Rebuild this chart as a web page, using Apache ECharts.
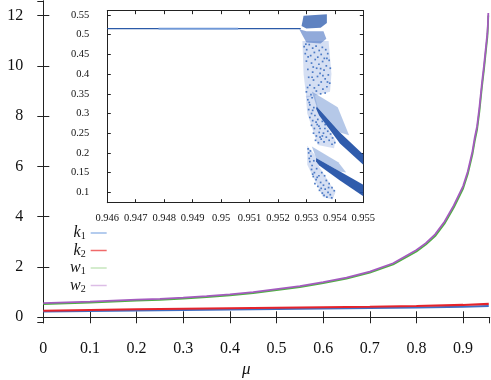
<!DOCTYPE html>
<html><head><meta charset="utf-8">
<script src="https://cdn.jsdelivr.net/npm/echarts@6/dist/echarts.min.js"></script>
<style>html,body{margin:0;padding:0;background:#fff}#c{width:491px;height:380px}</style>
</head><body><div id="c"></div>
<script>
// ---- main plot data ----
const wMu = [0,0.05,0.1,0.15,0.2,0.25,0.3,0.35,0.4,0.45,0.5,0.55,0.6,0.65,0.7,0.75,0.8,0.82,0.84,0.86,0.88,0.9,0.91,0.92,0.925,0.93,0.935,0.94,0.945,0.95,0.952,0.953,0.954];
const w2 = [0.56,0.59,0.62,0.66,0.70,0.73,0.78,0.84,0.91,1.0,1.12,1.24,1.40,1.58,1.82,2.15,2.68,2.95,3.3,3.8,4.45,5.22,5.8,6.6,7.15,7.6,8.35,9.25,10.05,10.95,11.3,11.6,12.1];
const w1 = [0.52,0.55,0.58,0.62,0.66,0.69,0.74,0.80,0.87,0.96,1.08,1.20,1.36,1.54,1.78,2.10,2.62,2.89,3.23,3.72,4.36,5.12,5.7,6.48,7.02,7.47,8.2,9.1,9.9,10.8,11.15,11.5,12.0];
const kMu = [0,0.1,0.2,0.3,0.4,0.5,0.6,0.7,0.8,0.9,0.955];
const k1 = [0.23,0.25,0.27,0.29,0.31,0.33,0.35,0.37,0.39,0.42,0.45];
const k2 = [0.26,0.29,0.32,0.34,0.36,0.38,0.40,0.42,0.45,0.49,0.53];
const mainXTickStep = 0.1;   // tick labels 0, 0.1, ... 0.9
const mainYTickStep = 2;     // tick labels 0, 2, ... 12
const legendNames = ['k1','k2','w1','w2'];

// ---- inset data ----
const insetXTickStep = 0.001; // tick labels 0.946 ... 0.955
const insetYTickStep = 0.05;  // tick labels 0.1 ... 0.55
const fixedLine = [[0.946,0.5155],[0.9528,0.5155]];
const fixedLineLight = [[0.9478,0.5155],[0.9506,0.5155]];
const topBlock = [[0.95283,0.522],[0.9529,0.548],[0.95372,0.552],[0.95372,0.530],[0.9535,0.518],[0.9530,0.516]];
const underBlock = [[0.95275,0.514],[0.9530,0.509],[0.9536,0.509],[0.9537,0.490],[0.9535,0.478],[0.9530,0.480],[0.95285,0.500]];
const cloud1 = [[0.95286,0.484],[0.95378,0.484],[0.95388,0.40],[0.95383,0.355],[0.95300,0.340],[0.95290,0.40]];
const cloud2 = [[0.95298,0.345],[0.95330,0.345],[0.95345,0.30],[0.95402,0.232],[0.95397,0.212],[0.95340,0.220],[0.95303,0.30]];
const cloud3 = [[0.95303,0.218],[0.95330,0.195],[0.95345,0.165],[0.95402,0.10],[0.95392,0.082],[0.95358,0.088],[0.95303,0.17]];
const sheet1 = [[0.95319,0.356],[0.95410,0.316],[0.95450,0.245],[0.95418,0.252],[0.95336,0.318]];
const sheet2 = [[0.95319,0.216],[0.95412,0.176],[0.95440,0.150],[0.95418,0.153],[0.95334,0.187]];
const band1 = [[0.95336,0.318],[0.95418,0.252],[0.9550,0.196],[0.9550,0.170],[0.95418,0.224],[0.95345,0.295],[0.95334,0.312]];
const band2 = [[0.95334,0.187],[0.95418,0.153],[0.9550,0.119],[0.9550,0.090],[0.95418,0.130],[0.95345,0.168],[0.95334,0.178]];
const dots = [
[0.95292,0.470],[0.95301,0.462],[0.95310,0.475],[0.95322,0.466],[0.95334,0.471],[0.95345,0.460],[0.95356,0.468],[0.95368,0.462],
[0.95296,0.452],[0.95315,0.447],[0.95328,0.455],[0.95340,0.443],[0.95352,0.450],[0.95363,0.440],[0.95375,0.452],[0.95300,0.433],
[0.95318,0.428],[0.95331,0.437],[0.95344,0.425],[0.95357,0.432],[0.95370,0.421],[0.95380,0.435],[0.95305,0.412],[0.95322,0.405],
[0.95336,0.415],[0.95348,0.402],[0.95362,0.410],[0.95377,0.398],[0.95308,0.392],[0.95325,0.385],[0.95339,0.394],[0.95352,0.380],
[0.95366,0.388],[0.95382,0.377],[0.95312,0.372],[0.95328,0.365],[0.95343,0.372],[0.95358,0.362],[0.95372,0.368],[0.95300,0.355],
[0.95316,0.348],[0.95335,0.357],[0.95298,0.476],[0.95306,0.444],[0.95324,0.418],[0.95350,0.414],[0.95372,0.440],[0.95384,0.415],
[0.95320,0.392],[0.95358,0.396],[0.95374,0.380],[0.95304,0.366],[0.95350,0.350],[0.95366,0.352],
[0.95305,0.335],[0.95312,0.322],[0.95320,0.340],[0.95308,0.310],[0.95318,0.300],[0.95326,0.315],[0.95312,0.290],[0.95322,0.282],
[0.95330,0.295],[0.95340,0.285],[0.95318,0.270],[0.95328,0.262],[0.95338,0.272],[0.95348,0.262],[0.95325,0.250],[0.95335,0.243],
[0.95345,0.252],[0.95356,0.243],[0.95332,0.232],[0.95342,0.226],[0.95352,0.235],[0.95362,0.228],[0.95370,0.240],[0.95380,0.232],
[0.95390,0.222],[0.95375,0.255],[0.95385,0.248],[0.95365,0.262],[0.95356,0.280],[0.95366,0.272],[0.95392,0.238],[0.95400,0.226],
[0.95310,0.328],[0.95322,0.308],[0.95334,0.278],[0.95344,0.268],[0.95360,0.250],[0.95348,0.240],
[0.95308,0.200],[0.95316,0.192],[0.95312,0.178],[0.95320,0.168],[0.95326,0.180],[0.95318,0.158],[0.95328,0.150],[0.95336,0.160],
[0.95324,0.140],[0.95334,0.132],[0.95344,0.142],[0.95330,0.122],[0.95340,0.115],[0.95350,0.125],[0.95360,0.118],[0.95346,0.105],
[0.95356,0.098],[0.95366,0.108],[0.95376,0.100],[0.95362,0.092],[0.95372,0.088],[0.95384,0.094],[0.95389,0.086],[0.95370,0.130],
[0.95380,0.122],[0.95390,0.112],[0.95398,0.104],[0.95354,0.150],[0.95364,0.142],[0.95306,0.210],[0.95314,0.205],
[0.95310,0.186],[0.95322,0.146],[0.95338,0.138],[0.95352,0.110],[0.95378,0.112]
];

const serif = '"Liberation Serif","DejaVu Serif",serif';
const ink = '#111';
function zip(xs, ys){ return xs.map((x,i)=>[x, ys[i]]); }
function fmt(v){ return String(+(+v).toFixed(4)); }
function polySeries(poly, fill){
  return {type:'custom', coordinateSystem:'cartesian2d', xAxisIndex:2, yAxisIndex:2, silent:true, data:poly,
    renderItem:function(params, api){
      if (params.dataIndex !== 0) return null;
      return {type:'polygon', shape:{points: poly.map(p=>api.coord(p))}, style:{fill:fill}};
    }};
}
function tickAxis(extra){
  return Object.assign({type:'value', splitLine:{show:false}, axisLine:{show:true, lineStyle:{color:'#222', width:1}}}, extra);
}
function ticks(len){ return {show:true, inside:true, length:len, lineStyle:{color:'#222', width:1}}; }
function labels(size, margin){
  return {show:true, formatter:fmt, fontFamily:serif, fontSize:size, color:ink, margin:margin,
          showMinLabel:false, showMaxLabel:false, interval:0, hideOverlap:false};
}
const noLab = {show:false};

const chart = echarts.init(document.getElementById('c'), null, {renderer:'canvas'});
chart.setOption({
  animation:false,
  backgroundColor:'#fff',
  grid:[
    {left:43.3, top:1, width:446.4, height:321.7, containLabel:false},
    {left:107.3, top:10.7, width:256, height:192, containLabel:false, show:true, backgroundColor:'#fff', borderWidth:0}
  ],
  xAxis:[
    tickAxis({gridIndex:0, position:'bottom', min:0, max:0.957, interval:mainXTickStep, axisTick:ticks(6),
      axisLabel:Object.assign(labels(16,18), {showMinLabel:true})}),
    tickAxis({gridIndex:0, position:'top', min:0, max:0.957, interval:mainXTickStep, axisTick:ticks(6), axisLabel:noLab}),
    tickAxis({gridIndex:1, position:'bottom', min:0.946, max:0.955, interval:insetXTickStep, axisTick:ticks(3.5),
      axisLabel:Object.assign(labels(10.5,10), {showMinLabel:true, showMaxLabel:true})}),
    tickAxis({gridIndex:1, position:'top', min:0.946, max:0.955, interval:insetXTickStep, axisTick:ticks(3.5), axisLabel:noLab})
  ],
  yAxis:[
    tickAxis({gridIndex:0, position:'left', min:-0.215, max:12.58, splitNumber:6, axisTick:ticks(6),
      axisLabel:labels(16,20)}),
    tickAxis({gridIndex:0, position:'right', min:-0.215, max:12.58, splitNumber:6, axisTick:ticks(6), axisLabel:noLab}),
    tickAxis({gridIndex:1, position:'left', min:0.0736, max:0.561, splitNumber:10, axisTick:ticks(3.5),
      axisLabel:labels(10.5,18)}),
    tickAxis({gridIndex:1, position:'right', min:0.0736, max:0.561, splitNumber:10, axisTick:ticks(3.5), axisLabel:noLab})
  ],
  legend:{
    orient:'vertical', left:65, top:220, align:'right', itemGap:1, itemWidth:16, itemHeight:1.5, icon:'rect',
    selectedMode:false,
    data:[
      {name:'k1', itemStyle:{color:'#9bbbe8'}},
      {name:'k2', itemStyle:{color:'#f06a6a'}},
      {name:'w1', itemStyle:{color:'#c6e6bc'}},
      {name:'w2', itemStyle:{color:'#dcbde6'}}
    ],
    formatter:function(n){ return '{i|' + n.charAt(0) + '}{s|' + n.charAt(1) + '}'; },
    textStyle:{rich:{
      i:{fontFamily:serif, fontStyle:'italic', fontSize:16, lineHeight:17, color:ink},
      s:{fontFamily:serif, fontSize:10, lineHeight:10, verticalAlign:'bottom', color:ink}
    }}
  },
  graphic:[
    {type:'text', left:242, top:361, style:{text:'μ', font:'italic 17px "Liberation Serif"', fill:ink}}
  ],
  series:[
    {name:legendNames[0], type:'line', xAxisIndex:0, yAxisIndex:0, data:zip(kMu,k1), showSymbol:false, lineStyle:{color:'#3f6fc4', width:2}, itemStyle:{color:'#3f6fc4'}},
    {name:legendNames[1], type:'line', xAxisIndex:0, yAxisIndex:0, data:zip(kMu,k2), showSymbol:false, lineStyle:{color:'#e5232b', width:2.2}, itemStyle:{color:'#e5232b'}},
    {name:legendNames[2], type:'line', xAxisIndex:0, yAxisIndex:0, data:zip(wMu,w1), showSymbol:false, lineStyle:{color:'#4fb043', width:1.8}, itemStyle:{color:'#4fb043'}},
    {name:legendNames[3], type:'line', xAxisIndex:0, yAxisIndex:0, data:zip(wMu,w2), showSymbol:false, lineStyle:{color:'#a45bbf', width:1.8}, itemStyle:{color:'#a45bbf'}},
    polySeries(cloud1, 'rgba(80,122,205,0.24)'),
    polySeries(cloud2, 'rgba(80,122,205,0.24)'),
    polySeries(cloud3, 'rgba(80,122,205,0.24)'),
    polySeries(underBlock, 'rgba(55,100,188,0.55)'),
    polySeries(topBlock, 'rgba(40,88,172,0.75)'),
    polySeries(sheet1, 'rgba(60,110,195,0.38)'),
    polySeries(sheet2, 'rgba(60,110,195,0.38)'),
    polySeries(band1, 'rgba(30,78,165,0.92)'),
    polySeries(band2, 'rgba(30,78,165,0.92)'),
    {type:'line', xAxisIndex:2, yAxisIndex:2, data:fixedLine, showSymbol:false, silent:true, lineStyle:{color:'#2b5aa8', width:1.3}},
    {type:'line', xAxisIndex:2, yAxisIndex:2, data:fixedLineLight, showSymbol:false, silent:true, lineStyle:{color:'#6f98d8', width:1.6}},
    {type:'scatter', xAxisIndex:2, yAxisIndex:2, data:dots, symbol:'rect', symbolSize:1.7, silent:true, itemStyle:{color:'#3d6fc0', opacity:0.9}}
  ]
});
</script>
</body></html>
